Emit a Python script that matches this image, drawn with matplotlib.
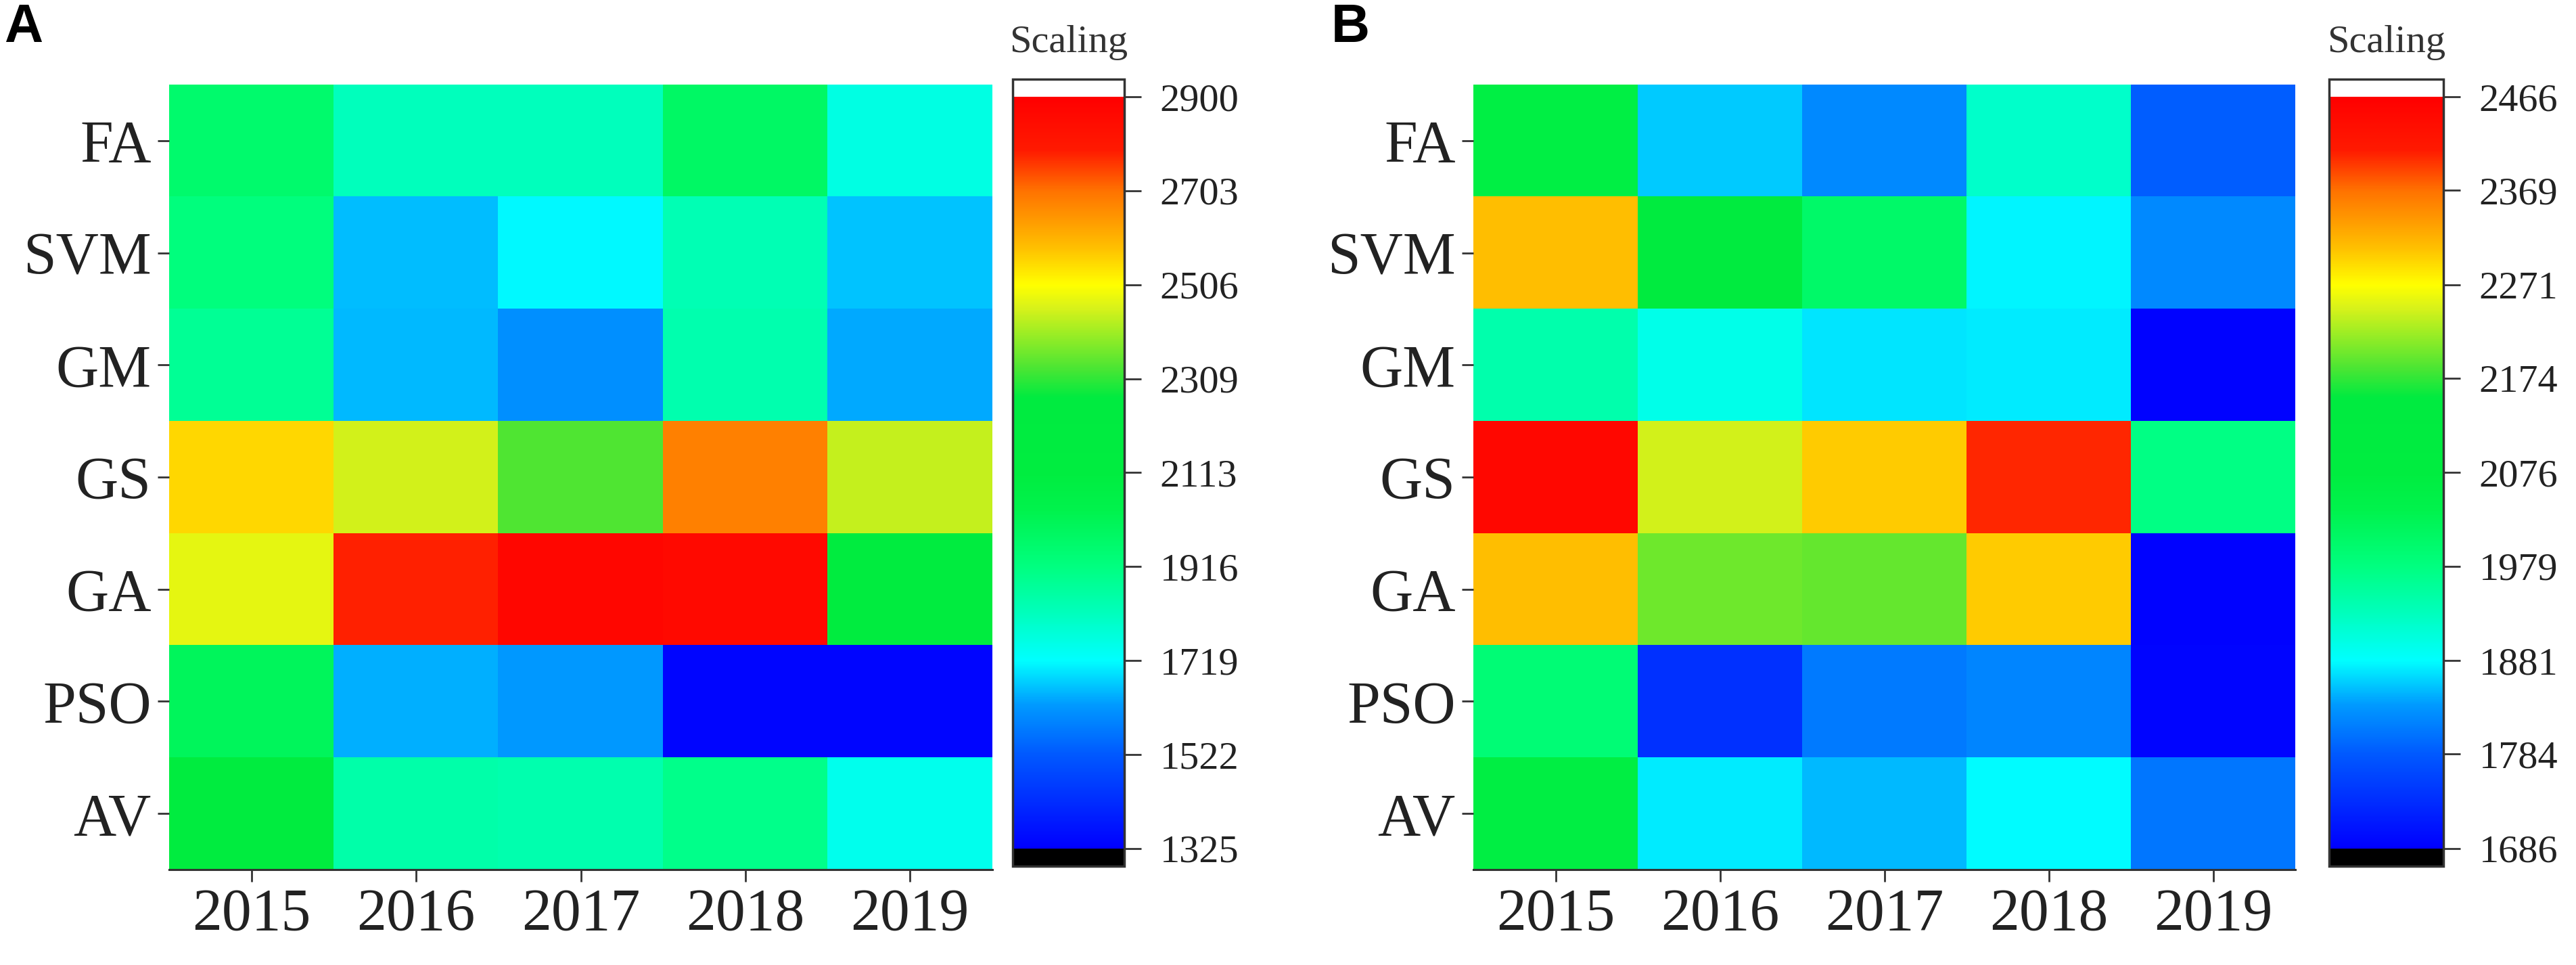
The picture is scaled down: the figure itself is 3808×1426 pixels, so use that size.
import numpy as np
import matplotlib
matplotlib.use("Agg")
import matplotlib.pyplot as plt
from matplotlib.colors import LinearSegmentedColormap, Normalize

# ---------------- data ----------------
methods = ["FA", "SVM", "GM", "GS", "GA", "PSO", "AV"]
years = ["2015", "2016", "2017", "2018", "2019"]

values_a = [
    [1960, 1820, 1820, 1980, 1760],   # FA
    [1920, 1660, 1715, 1830, 1665],   # SVM
    [1880, 1655, 1610, 1840, 1640],   # GM
    [2554, 2453, 2335, 2680, 2440],   # GS
    [2475, 2782, 2870, 2860, 2150],   # GA
    [2000, 1645, 1625, 1340, 1340],   # PSO
    [2150, 1850, 1840, 1900, 1745],   # AV
]
ticks_a = [1325, 1522, 1719, 1916, 2113, 2309, 2506, 2703, 2900]

values_b = [
    [2060, 1858, 1822, 1920, 1787],   # FA
    [2310, 2115, 2005, 1877, 1822],   # SVM
    [1943, 1897, 1870, 1873, 1690],   # GM
    [2450, 2245, 2302, 2404, 1975],   # GS
    [2310, 2200, 2195, 2302, 1690],   # GA
    [1990, 1740, 1810, 1820, 1692],   # PSO
    [2065, 1873, 1850, 1880, 1807],   # AV
]
ticks_b = [1686, 1784, 1881, 1979, 2076, 2174, 2271, 2369, 2466]

panel_labels = ["A", "B"]
cbar_title = "Scaling"

# ---------------- colormap ----------------
nodes = [
    (0.00, (0.00, 0.00, 1.00)),
    (0.125, (0.00, 0.35, 1.00)),
    (0.19, (0.00, 0.60, 1.00)),
    (0.25, (0.00, 1.00, 1.00)),
    (0.31, (0.00, 1.00, 0.75)),
    (0.375, (0.00, 1.00, 0.50)),
    (0.45, (0.00, 0.95, 0.30)),
    (0.50, (0.00, 0.93, 0.25)),
    (0.60, (0.00, 0.92, 0.25)),
    (0.64, (0.30, 0.90, 0.20)),
    (0.72, (0.85, 0.95, 0.10)),
    (0.75, (1.00, 1.00, 0.00)),
    (0.80, (1.00, 0.75, 0.00)),
    (0.875, (1.00, 0.45, 0.00)),
    (0.93, (1.00, 0.10, 0.00)),
    (1.00, (1.00, 0.00, 0.00)),
]
cmap = LinearSegmentedColormap.from_list("scaling", nodes, N=512)
cmap.set_over("white")
cmap.set_under("black")

W, H = 3808, 1426
fig = plt.figure(figsize=(W / 100, H / 100), dpi=100)

serif = "Liberation Serif"
txt_color = "#222222"


def px_rect(x0, y0, x1, y1):
    return [x0 / W, 1 - y1 / H, (x1 - x0) / W, (y1 - y0) / H]


panels = [
    dict(vals=values_a, ticks=ticks_a, ax=(250, 125, 1467, 1285),
         cax=(1497, 117, 1662, 1280), letter_x=6),
    dict(vals=values_b, ticks=ticks_b, ax=(2178, 125, 3393, 1285),
         cax=(3443, 117, 3612, 1280), letter_x=1968),
]

for p, letter in zip(panels, panel_labels):
    data = np.array(p["vals"], dtype=float)
    norm = Normalize(vmin=p["ticks"][0], vmax=p["ticks"][-1])
    ax = fig.add_axes(px_rect(*p["ax"]))
    im = ax.imshow(data, cmap=cmap, norm=norm, aspect="auto",
                   interpolation="nearest")
    ax.set_xticks(range(len(years)))
    ax.set_xticklabels(years, fontfamily=serif, fontsize=63, color=txt_color)
    ax.set_yticks(range(len(methods)))
    ax.set_yticklabels(methods, fontfamily=serif, fontsize=63, color=txt_color)
    ax.tick_params(axis="x", length=13, width=2, pad=6, color="#333333")
    ax.tick_params(axis="y", length=12, width=2, pad=7, color="#333333")
    for s in ["top", "right", "left"]:
        ax.spines[s].set_visible(False)
    ax.spines["bottom"].set_linewidth(2.2)
    ax.spines["bottom"].set_color("#333333")

    cax = fig.add_axes(px_rect(*p["cax"]))
    cb = fig.colorbar(im, cax=cax, extend="both", extendrect=True,
                      extendfrac=26 / 1110, ticks=p["ticks"])
    cb.set_ticklabels([str(t) for t in p["ticks"]])
    cb.outline.set_linewidth(2.5)
    cb.outline.set_edgecolor("#333333")
    cax.tick_params(length=18, width=2, pad=20, color="#333333",
                    labelsize=42, labelcolor=txt_color)
    for lab in cax.get_yticklabels():
        lab.set_fontfamily(serif)

    cx = (p["cax"][0] + p["cax"][2]) / 2
    fig.text(cx / W, 1 - 77 / H, cbar_title, ha="center", va="baseline",
             fontfamily=serif, fontsize=42, color="#333333")

    fig.text(p["letter_x"] / W, 1 - 62 / H, letter, ha="left", va="baseline",
             fontfamily="Liberation Sans", fontweight="bold", fontsize=57,
             color="black")

fig.savefig("out.png", dpi=100)
